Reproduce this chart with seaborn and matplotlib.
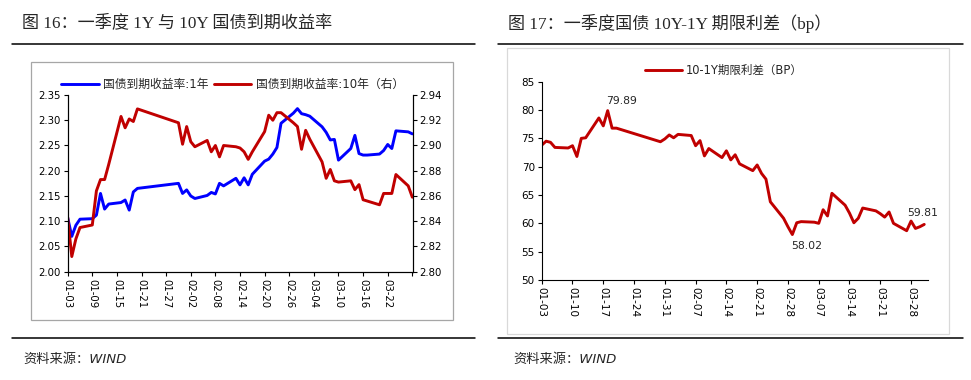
import pandas as pd
import matplotlib
matplotlib.use("Agg")
import matplotlib.pyplot as plt
from matplotlib.lines import Line2D
from matplotlib.patches import Rectangle
import seaborn as sns

YEAR = "2023"

# 图16: 1Y and 10Y treasury yields (%)
days_l = ["01-03", "01-04", "01-05", "01-06", "01-09", "01-10", "01-11", "01-12",
          "01-13", "01-16", "01-17", "01-18", "01-19", "01-20", "01-30", "01-31",
          "02-01", "02-02", "02-03", "02-06", "02-07", "02-08", "02-09", "02-10",
          "02-13", "02-14", "02-15", "02-16", "02-17", "02-20", "02-21", "02-22",
          "02-23", "02-24", "02-27", "02-28", "03-01", "03-02", "03-03", "03-06",
          "03-07", "03-08", "03-09", "03-10", "03-13", "03-14", "03-15", "03-16",
          "03-17", "03-20", "03-21", "03-22", "03-23", "03-24", "03-27", "03-28"]
yield_1y = [2.107, 2.070, 2.092, 2.104, 2.105, 2.112, 2.155, 2.124,
            2.134, 2.137, 2.142, 2.122, 2.158, 2.165, 2.175, 2.155,
            2.162, 2.150, 2.145, 2.151, 2.157, 2.154, 2.175, 2.170,
            2.185, 2.172, 2.186, 2.172, 2.193, 2.219, 2.223, 2.233,
            2.246, 2.294, 2.314, 2.323, 2.313, 2.311, 2.308, 2.287,
            2.276, 2.261, 2.262, 2.221, 2.244, 2.270, 2.234, 2.231,
            2.231, 2.233, 2.240, 2.252, 2.244, 2.279, 2.277, 2.273]
yield_10y = [2.843, 2.812, 2.826, 2.835, 2.837, 2.864, 2.873, 2.873,
             2.885, 2.923, 2.914, 2.921, 2.919, 2.929, 2.918, 2.901,
             2.915, 2.903, 2.899, 2.904, 2.895, 2.900, 2.891, 2.900,
             2.899, 2.898, 2.895, 2.889, 2.895, 2.911, 2.924, 2.920,
             2.926, 2.926, 2.918, 2.915, 2.897, 2.912, 2.905, 2.887,
             2.874, 2.881, 2.872, 2.871, 2.872, 2.865, 2.869, 2.857,
             2.856, 2.853, 2.862, 2.862, 2.862, 2.877, 2.868, 2.859]

# 图17: 10Y-1Y term spread (bp)
days_r = days_l + ["03-29", "03-30", "03-31"]
spread_bp = [73.8, 74.5, 74.3, 73.4, 73.3, 73.7, 71.8, 75.0,
             75.1, 78.6, 77.2, 79.89, 76.8, 76.8, 74.4, 74.9,
             75.6, 75.1, 75.7, 75.5, 73.7, 74.6, 71.9, 73.2,
             71.6, 72.8, 71.2, 72.1, 70.5, 69.3, 70.3, 68.8,
             67.8, 63.8, 60.9, 59.4, 58.02, 60.1, 60.3, 60.2,
             60.0, 62.4, 61.3, 65.3, 63.2, 61.8, 60.1, 60.9,
             62.7, 62.2, 61.7, 61.1, 62.0, 60.0, 58.7, 60.4,
             59.1, 59.4, 59.81]
labelled_days = ["01-18", "03-01", "03-31"]

ticks_l = ["01-03", "01-09", "01-15", "01-21", "01-27", "02-02", "02-08", "02-14",
           "02-20", "02-26", "03-04", "03-10", "03-16", "03-22", "03-28"]
ticks_r = ["01-03", "01-10", "01-17", "01-24", "01-31", "02-07", "02-14", "02-21",
           "02-28", "03-07", "03-14", "03-21", "03-28"]

BLUE = "#0000FF"
RED = "#C00000"


def to_dates(days):
    return pd.to_datetime([YEAR + "-" + d for d in days])


df_l = pd.DataFrame({"date": to_dates(days_l), "y1": yield_1y, "y10": yield_10y})
df_r = pd.DataFrame({"date": to_dates(days_r), "spread": spread_bp})

sns.set_style("white")
plt.rcParams["font.family"] = ["DejaVu Sans", "Noto Sans CJK SC"]
plt.rcParams["axes.linewidth"] = 0.8

fig = plt.figure(figsize=(9.71, 3.80), dpi=100)

# page decorations: titles, rules, frames, sources
serif_cjk = ["Liberation Serif", "Noto Sans CJK SC"]
fig.text(0.0227, 0.9395, "图 16：一季度 1Y 与 10Y 国债到期收益率", family=serif_cjk,
         fontsize=12.3, va="center", ha="left")
fig.text(0.5232, 0.9395, "图 17：一季度国债 10Y-1Y 期限利差（bp）", family=serif_cjk,
         fontsize=12.3, va="center", ha="left")
for x0, x1 in [(0.0124, 0.4892), (0.5129, 0.9918)]:
    fig.add_artist(Line2D([x0, x1], [0.8829, 0.8829], transform=fig.transFigure,
                          color="black", lw=1.1))
    fig.add_artist(Line2D([x0, x1], [0.1105, 0.1105], transform=fig.transFigure,
                          color="black", lw=1.1))
fig.add_artist(Rectangle((0.0316, 0.1579), 0.4346, 0.6797, transform=fig.transFigure,
                         fill=False, edgecolor="#A6A6A6", lw=0.9))
fig.add_artist(Rectangle((0.5218, 0.1210), 0.4555, 0.7518, transform=fig.transFigure,
                         fill=False, edgecolor="#D9D9D9", lw=0.9))
for x in [0.0237, 0.5283]:
    fig.text(x, 0.0530, "资料来源：WIND", fontsize=9.5, style="italic",
             va="center", ha="left")

# ---- left chart ----
ax = fig.add_axes([0.0697, 0.285, 0.3553, 0.465])
ax2 = ax.twinx()
sns.lineplot(data=df_l, x="date", y="y1", ax=ax, color=BLUE, lw=2.1, legend=False)
sns.lineplot(data=df_l, x="date", y="y10", ax=ax2, color=RED, lw=2.1, legend=False)

ax.set_ylim(2.00, 2.35)
ax.set_yticks([2.00 + 0.05 * i for i in range(8)])
ax.set_yticklabels([f"{2.00 + 0.05 * i:.2f}" for i in range(8)])
ax2.set_ylim(2.80, 2.94)
ax2.set_yticks([2.80 + 0.02 * i for i in range(8)])
ax2.set_yticklabels([f"{2.80 + 0.02 * i:.2f}" for i in range(8)])

ax.set_xlim(pd.Timestamp(YEAR + "-01-03"), pd.Timestamp(YEAR + "-03-28 02:00"))
ax.set_xticks(to_dates(ticks_l))
ax.set_xticklabels(ticks_l[:-1] + [""], rotation=-90, ha="center", va="top")

for a in (ax, ax2):
    a.set_xlabel("")
    a.set_ylabel("")
    a.spines["top"].set_visible(False)
    for s in a.spines.values():
        s.set_color("black")
    a.tick_params(axis="both", direction="out", length=3, width=0.8,
                  labelsize=7.3, colors="black", pad=2)
ax.tick_params(axis="y", left=True)
ax.tick_params(axis="x", bottom=True)
ax2.tick_params(axis="y", right=True)

handles = [Line2D([], [], color=BLUE, lw=2.1), Line2D([], [], color=RED, lw=2.1)]
fig.legend(handles, ["国债到期收益率:1年", "国债到期收益率:10年（右）"],
           loc="center left", bbox_to_anchor=(61 / 971, 1 - 84.3 / 380), ncol=2,
           frameon=False, fontsize=8.5, handlelength=3.2, handletextpad=0.35,
           columnspacing=0.45, borderpad=0, borderaxespad=0)

# ---- right chart ----
bx = fig.add_axes([0.5579, 0.2632, 0.3981, 0.5218])
sns.lineplot(data=df_r, x="date", y="spread", ax=bx, color=RED, lw=2.1, legend=False)
bx.set_ylim(50, 85)
bx.set_yticks(range(50, 86, 5))
bx.set_xlim(pd.Timestamp(YEAR + "-01-03"), pd.Timestamp(YEAR + "-03-31 22:00"))
bx.set_xticks(to_dates(ticks_r))
bx.set_xticklabels(ticks_r, rotation=-90, ha="center", va="top")
bx.set_xlabel("")
bx.set_ylabel("")
bx.spines["top"].set_visible(False)
bx.spines["right"].set_visible(False)
for s in bx.spines.values():
    s.set_color("black")
bx.tick_params(axis="both", direction="out", length=3, width=0.8,
               labelsize=7.5, colors="black", pad=2, left=True, bottom=True)

offsets = {"01-18": (10, 7), "03-01": (10, -8.5), "03-31": (-1, 8.5)}
for d in labelled_days:
    v = spread_bp[days_r.index(d)]
    bx.annotate(f"{v:.2f}", xy=(pd.Timestamp(YEAR + "-" + d), v),
                xytext=offsets[d], textcoords="offset points",
                ha="center", va="center", fontsize=7.8)

fig.legend([Line2D([], [], color=RED, lw=2.1)], ["10-1Y期限利差（BP）"],
           loc="center left", bbox_to_anchor=(645 / 971, 1 - 70.7 / 380),
           frameon=False, fontsize=8.3, handlelength=3.2, handletextpad=0.35,
           borderpad=0, borderaxespad=0)

fig.savefig("out.png", dpi=100)
